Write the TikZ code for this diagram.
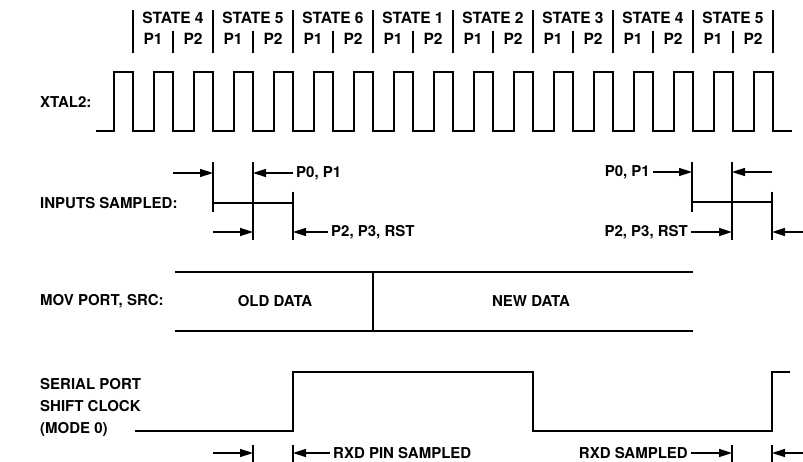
\documentclass[tikz,border=0pt]{standalone}
\usepackage{fontspec}
\setmainfont{TeX Gyre Heros}
\usetikzlibrary{arrows.meta}
\begin{document}
\begin{tikzpicture}[x=1pt,y=-1pt,
  lbl/.style={font=\bfseries\fontsize{15}{22}\selectfont, inner sep=0pt},
  hdr/.style={font=\bfseries\fontsize{15.5}{18}\selectfont, inner sep=0pt},
  sig/.style={line width=2.6pt, line join=miter},
  rule/.style={line width=1.7pt},
  dim/.style={line width=1.5pt, -{Triangle[length=13pt,width=8pt]}},
]
\useasboundingbox (0,0) rectangle (803,462);

% ---------- header ----------
\foreach \k in {0,...,8} \draw[rule] (133+80*\k,10) -- (133+80*\k,53);
\foreach \s [count=\i from 0] in {4,5,6,1,2,3,4,5} {
  \node[hdr] (st\i) at (173+80*\i,18) {STATE \s};
  \node[hdr] (pa\i) at (153+80*\i,39) {P1};
  \node[hdr] (pb\i) at (193+80*\i,39) {P2};
  \draw[rule] (173+80*\i,31) -- (173+80*\i,53);
}

% ---------- XTAL2 ----------
\node[lbl,anchor=west] (xtal) at (40,102) {XTAL2:};
\draw[sig] (96,131) \foreach \k in {0,...,16} { -- (114+40*\k,131) -- (114+40*\k,72) -- (133+40*\k,72) -- (133+40*\k,131) } -- (792,131);

% ---------- inputs sampled ----------
\node[lbl,anchor=west] (inp) at (40,203) {INPUTS SAMPLED:};
\draw[rule] (213,162) -- (213,212);
\draw[rule] (253,162) -- (253,240);
\draw[rule] (293,192) -- (293,240);
\draw[sig] (213,203) -- (293,203);
\coordinate (la1) at (173,173);
\coordinate (la1e) at (213,173);
\draw[dim] (la1) -- (la1e);
\node[lbl,anchor=west] (p01l) at (296,173) {P0, P1};
\coordinate (la2e) at (253,173);
\draw[dim] ([xshift=-3pt]p01l.west) -- (la2e);
\coordinate (la3) at (213,232);
\coordinate (la3e) at (253,232);
\draw[dim] (la3) -- (la3e);
\node[lbl,anchor=west] (p23l) at (331,232) {P2, P3, RST};
\coordinate (la4e) at (293,232);
\draw[dim] ([xshift=-3pt]p23l.west) -- (la4e);

\draw[rule] (692,162) -- (692,212);
\draw[rule] (732,162) -- (732,240);
\draw[rule] (772,192) -- (772,240);
\draw[sig] (692,202) -- (772,202);
\node[lbl,anchor=east] (p01r) at (650,172) {P0, P1};
\coordinate (ra1e) at (692,172);
\draw[dim] ([xshift=3pt]p01r.east) -- (ra1e);
\coordinate (ra2) at (772,172);
\coordinate (ra2e) at (732,172);
\draw[dim] (ra2) -- (ra2e);
\node[lbl,anchor=east] (p23r) at (688,232) {P2, P3, RST};
\coordinate (ra3e) at (732,232);
\draw[dim] ([xshift=3pt]p23r.east) -- (ra3e);
\coordinate (ra4) at (803,232);
\coordinate (ra4e) at (772,232);
\draw[dim] (ra4) -- (ra4e);

% ---------- MOV PORT ----------
\node[lbl,anchor=west] (mov) at (40,301) {MOV PORT, SRC:};
\draw[sig] (175,272) -- (693,272);
\draw[sig] (175,331) -- (693,331);
\draw[rule] (373,272) -- (373,331);
\node[lbl] (old) at (275,301) {OLD DATA};
\node[lbl] (new) at (531,301) {NEW DATA};

% ---------- serial port ----------
\node[lbl,anchor=west,align=left] (ser) at (40,407) {SERIAL PORT\\SHIFT CLOCK\\(MODE 0)};
\draw[sig] (135,431) -- (293,431) -- (293,372) -- (533,372) -- (533,431) -- (772,431) -- (772,372) -- (790,372);
\draw[rule] (253,445) -- (253,462);
\draw[rule] (293,445) -- (293,462);
\draw[rule] (732,445) -- (732,462);
\draw[rule] (772,445) -- (772,462);
\coordinate (sa1) at (213,453);
\coordinate (sa1e) at (253,453);
\draw[dim] (sa1) -- (sa1e);
\node[lbl,anchor=west] (rxdp) at (333,453) {RXD PIN SAMPLED};
\coordinate (sa2e) at (293,453);
\draw[dim] ([xshift=-3pt]rxdp.west) -- (sa2e);
\node[lbl,anchor=east] (rxds) at (688,453) {RXD SAMPLED};
\coordinate (sa3e) at (732,453);
\draw[dim] ([xshift=3pt]rxds.east) -- (sa3e);
\coordinate (sa4) at (803,453);
\coordinate (sa4e) at (772,453);
\draw[dim] (sa4) -- (sa4e);
\end{tikzpicture}
\end{document}
